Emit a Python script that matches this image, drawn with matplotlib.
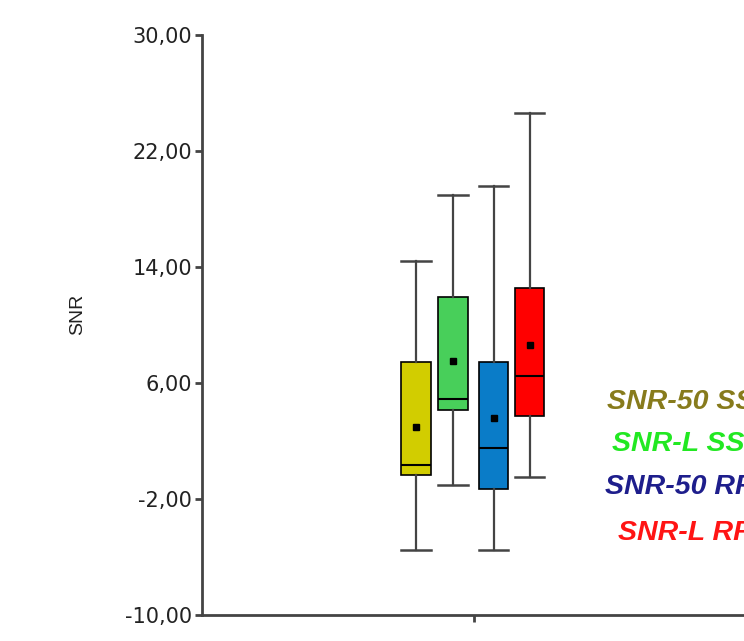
import matplotlib
matplotlib.use("Agg")
import matplotlib.pyplot as plt

# values (SNR, dB)
series = ["SNR-50 SS", "SNR-L SS", "SNR-50 RF", "SNR-L RF"]
whisk_lo = [-5.5, -1.0, -5.5, -0.5]
q1 = [-0.35, 4.15, -1.3, 3.7]
medians = [0.35, 4.9, 1.5, 6.45]
q3 = [7.45, 11.9, 7.45, 12.55]
whisk_hi = [14.4, 19.0, 19.6, 24.6]
means = [2.95, 7.5, 3.6, 8.6]

box_colors = ["#d2cd00", "#48cf5a", "#0a7cc8", "#ff0000"]
text_colors = ["#877b1c", "#22e822", "#1e1e8c", "#ff1414"]
yticks = [-10, -2, 6, 14, 22, 30]

W, H = 744, 641
fig = plt.figure(figsize=(W / 100, H / 100), dpi=100)
ax = fig.add_axes([202 / W, 1 - 615 / H, (W - 202) / W, (615 - 35) / H])

unit = 272.0  # px per x data unit
offsets = [-58 / unit, -21 / unit, 19.5 / unit, 55.5 / unit]
bw = 29.5 / unit

stats = []
for i in range(len(series)):
    stats.append(dict(label=series[i], whislo=whisk_lo[i], q1=q1[i], med=medians[i],
                      q3=q3[i], whishi=whisk_hi[i], mean=means[i], fliers=[]))

bp = ax.bxp(stats, positions=[1 + o for o in offsets], widths=bw, capwidths=bw,
            patch_artist=True, showmeans=True, showfliers=False,
            boxprops=dict(edgecolor="black", linewidth=1.2),
            medianprops=dict(color="black", linewidth=1.5),
            whiskerprops=dict(color="#444444", linewidth=1.6),
            capprops=dict(color="#444444", linewidth=1.8),
            meanprops=dict(marker="s", markerfacecolor="black", markeredgecolor="black",
                           markersize=5))
for patch, c in zip(bp["boxes"], box_colors):
    patch.set_facecolor(c)

ax.set_xlim(0, (W - 202) / unit)
ax.set_ylim(-10, 30)
ax.set_xticks([1])
ax.set_xticklabels([""])
ax.set_yticks(yticks)
ax.set_yticklabels([f"{v:.2f}".replace(".", ",") for v in yticks],
                   fontsize=15, family="DejaVu Sans", color="#222222")
ax.tick_params(axis="both", direction="out", length=5, width=2, color="#444444", pad=2)

for s in ["top", "right"]:
    ax.spines[s].set_visible(False)
for s in ["left", "bottom"]:
    ax.spines[s].set_color("#444444")
    ax.spines[s].set_linewidth(2)
ax.spines["left"].set_clip_on(False)

fig.text(78 / W, 1 - 314 / H, "SNR", rotation=90, ha="center", va="center",
         fontsize=14, family="Liberation Sans", color="#222222")

# labels at the right side (cut by the frame in the source)
text_pos = [(607, 402), (612, 444), (605, 487), (618, 533)]
for (px, py), lab, c in zip(text_pos, series, text_colors):
    fig.text(px / W, 1 - py / H, lab, ha="left", va="center", fontsize=20.5,
             family="Liberation Sans", weight="bold", style="italic", color=c)

fig.savefig("out.png", dpi=100)
